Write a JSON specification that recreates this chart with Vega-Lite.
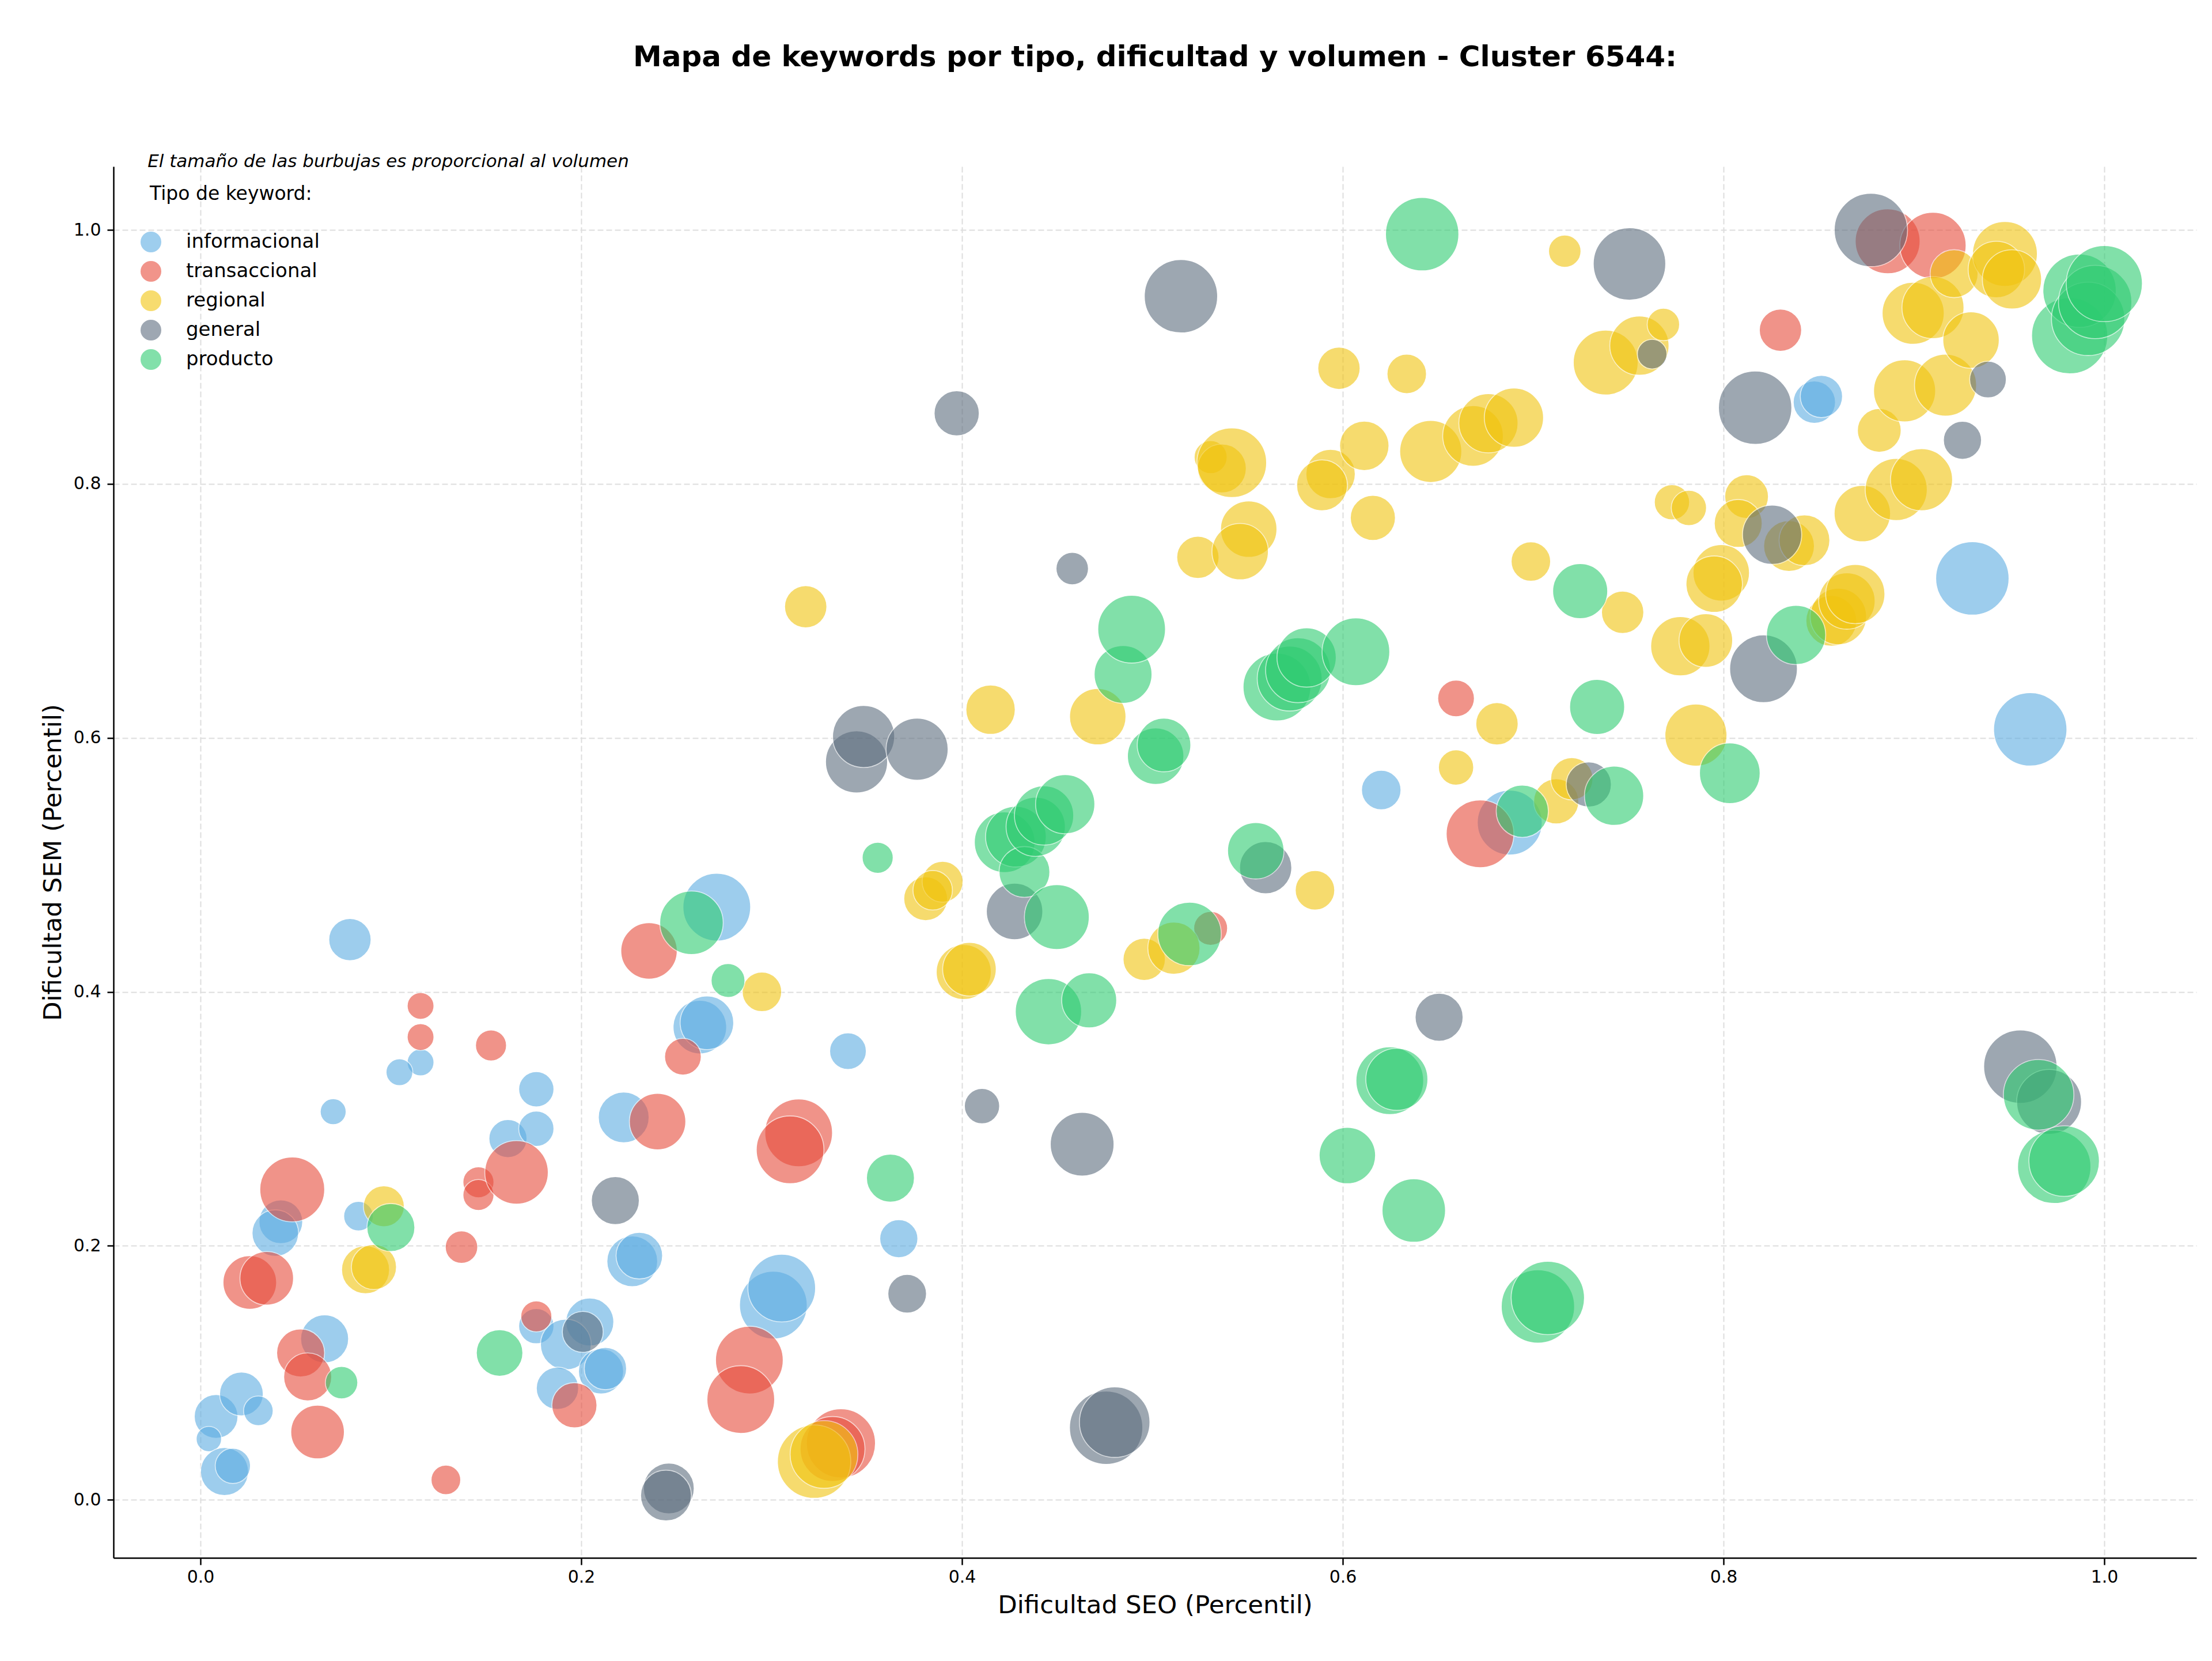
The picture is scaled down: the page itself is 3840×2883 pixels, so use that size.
{
  "$schema": "https://vega.github.io/schema/vega-lite/v6.json",
  "autosize": {"type": "none"},
  "width": 3616,
  "height": 2415,
  "padding": {"left": 197, "top": 289, "right": 27, "bottom": 179},
  "background": "white",
  "title": {
    "text": "Mapa de keywords por tipo, dificultad y volumen - Cluster 6544:",
    "font": "DejaVu Sans",
    "fontSize": 50,
    "fontWeight": "bold",
    "color": "black",
    "anchor": "middle",
    "frame": "group",
    "offset": 140
  },
  "config": {
    "view": {"stroke": null},
    "font": "DejaVu Sans"
  },
  "data": {
    "values": [
      {"tipo": "informacional", "seo": 0.0785, "sem": 0.4411, "volumen": 2250},
      {"tipo": "informacional", "seo": 0.0697, "sem": 0.3056, "volumen": 846},
      {"tipo": "informacional", "seo": 0.1156, "sem": 0.3444, "volumen": 903},
      {"tipo": "informacional", "seo": 0.1045, "sem": 0.3367, "volumen": 903},
      {"tipo": "informacional", "seo": 0.1615, "sem": 0.2844, "volumen": 1823},
      {"tipo": "informacional", "seo": 0.1764, "sem": 0.3233, "volumen": 1563},
      {"tipo": "informacional", "seo": 0.1764, "sem": 0.2922, "volumen": 1563},
      {"tipo": "informacional", "seo": 0.0422, "sem": 0.2189, "volumen": 2403},
      {"tipo": "informacional", "seo": 0.0393, "sem": 0.21, "volumen": 2723},
      {"tipo": "informacional", "seo": 0.083, "sem": 0.2233, "volumen": 1103},
      {"tipo": "informacional", "seo": 0.0652, "sem": 0.1267, "volumen": 2890},
      {"tipo": "informacional", "seo": 0.0082, "sem": 0.0656, "volumen": 2403},
      {"tipo": "informacional", "seo": 0.0215, "sem": 0.0833, "volumen": 2403},
      {"tipo": "informacional", "seo": 0.0304, "sem": 0.07, "volumen": 1103},
      {"tipo": "informacional", "seo": 0.0044, "sem": 0.0478, "volumen": 810},
      {"tipo": "informacional", "seo": 0.0126, "sem": 0.0222, "volumen": 2890},
      {"tipo": "informacional", "seo": 0.017, "sem": 0.0267, "volumen": 1563},
      {"tipo": "informacional", "seo": 0.1764, "sem": 0.1367, "volumen": 1563},
      {"tipo": "informacional", "seo": 0.2045, "sem": 0.14, "volumen": 2890},
      {"tipo": "informacional", "seo": 0.1919, "sem": 0.1222, "volumen": 3240},
      {"tipo": "informacional", "seo": 0.2104, "sem": 0.1011, "volumen": 2560},
      {"tipo": "informacional", "seo": 0.2127, "sem": 0.1033, "volumen": 2250},
      {"tipo": "informacional", "seo": 0.1875, "sem": 0.0878, "volumen": 2250},
      {"tipo": "informacional", "seo": 0.2223, "sem": 0.3011, "volumen": 3240},
      {"tipo": "informacional", "seo": 0.2268, "sem": 0.1878, "volumen": 3240},
      {"tipo": "informacional", "seo": 0.2305, "sem": 0.1922, "volumen": 2723},
      {"tipo": "informacional", "seo": 0.2623, "sem": 0.3722, "volumen": 3610},
      {"tipo": "informacional", "seo": 0.266, "sem": 0.3756, "volumen": 3610},
      {"tipo": "informacional", "seo": 0.2712, "sem": 0.4667, "volumen": 5760},
      {"tipo": "informacional", "seo": 0.3009, "sem": 0.1533, "volumen": 5760},
      {"tipo": "informacional", "seo": 0.3053, "sem": 0.1667, "volumen": 5760},
      {"tipo": "informacional", "seo": 0.3401, "sem": 0.3533, "volumen": 1690},
      {"tipo": "informacional", "seo": 0.3668, "sem": 0.2056, "volumen": 1823},
      {"tipo": "informacional", "seo": 0.6202, "sem": 0.5589, "volumen": 1960},
      {"tipo": "informacional", "seo": 0.6877, "sem": 0.5333, "volumen": 5290},
      {"tipo": "informacional", "seo": 0.8477, "sem": 0.8644, "volumen": 2250},
      {"tipo": "informacional", "seo": 0.8514, "sem": 0.8689, "volumen": 2250},
      {"tipo": "informacional", "seo": 0.9307, "sem": 0.7256, "volumen": 6760},
      {"tipo": "informacional", "seo": 0.9611, "sem": 0.6067, "volumen": 6760},
      {"tipo": "transaccional", "seo": 0.0482, "sem": 0.2444, "volumen": 5290},
      {"tipo": "transaccional", "seo": 0.0259, "sem": 0.1711, "volumen": 3610},
      {"tipo": "transaccional", "seo": 0.0348, "sem": 0.1744, "volumen": 3610},
      {"tipo": "transaccional", "seo": 0.0526, "sem": 0.1156, "volumen": 2890},
      {"tipo": "transaccional", "seo": 0.0563, "sem": 0.0967, "volumen": 2890},
      {"tipo": "transaccional", "seo": 0.0615, "sem": 0.0533, "volumen": 3610},
      {"tipo": "transaccional", "seo": 0.1156, "sem": 0.3889, "volumen": 903},
      {"tipo": "transaccional", "seo": 0.1156, "sem": 0.3644, "volumen": 903},
      {"tipo": "transaccional", "seo": 0.1526, "sem": 0.3578, "volumen": 1210},
      {"tipo": "transaccional", "seo": 0.146, "sem": 0.25, "volumen": 1210},
      {"tipo": "transaccional", "seo": 0.146, "sem": 0.24, "volumen": 1210},
      {"tipo": "transaccional", "seo": 0.166, "sem": 0.2578, "volumen": 5063},
      {"tipo": "transaccional", "seo": 0.1371, "sem": 0.1989, "volumen": 1323},
      {"tipo": "transaccional", "seo": 0.1764, "sem": 0.1444, "volumen": 1210},
      {"tipo": "transaccional", "seo": 0.1964, "sem": 0.0744, "volumen": 2560},
      {"tipo": "transaccional", "seo": 0.1289, "sem": 0.0156, "volumen": 1103},
      {"tipo": "transaccional", "seo": 0.2356, "sem": 0.4322, "volumen": 4000},
      {"tipo": "transaccional", "seo": 0.2401, "sem": 0.2978, "volumen": 4000},
      {"tipo": "transaccional", "seo": 0.2534, "sem": 0.3489, "volumen": 1690},
      {"tipo": "transaccional", "seo": 0.3142, "sem": 0.2889, "volumen": 5760},
      {"tipo": "transaccional", "seo": 0.3097, "sem": 0.2756, "volumen": 5760},
      {"tipo": "transaccional", "seo": 0.2883, "sem": 0.11, "volumen": 5760},
      {"tipo": "transaccional", "seo": 0.2838, "sem": 0.0789, "volumen": 5760},
      {"tipo": "transaccional", "seo": 0.3364, "sem": 0.0444, "volumen": 6003},
      {"tipo": "transaccional", "seo": 0.332, "sem": 0.04, "volumen": 5290},
      {"tipo": "transaccional", "seo": 0.5306, "sem": 0.45, "volumen": 1440},
      {"tipo": "transaccional", "seo": 0.6595, "sem": 0.6311, "volumen": 1690},
      {"tipo": "transaccional", "seo": 0.6721, "sem": 0.5244, "volumen": 5760},
      {"tipo": "transaccional", "seo": 0.8299, "sem": 0.9211, "volumen": 2250},
      {"tipo": "transaccional", "seo": 0.8862, "sem": 0.9911, "volumen": 5290},
      {"tipo": "transaccional", "seo": 0.91, "sem": 0.9878, "volumen": 5523},
      {"tipo": "regional", "seo": 0.0963, "sem": 0.2311, "volumen": 2103},
      {"tipo": "regional", "seo": 0.0867, "sem": 0.1811, "volumen": 2890},
      {"tipo": "regional", "seo": 0.0911, "sem": 0.1833, "volumen": 2560},
      {"tipo": "regional", "seo": 0.3179, "sem": 0.7033, "volumen": 2250},
      {"tipo": "regional", "seo": 0.2949, "sem": 0.4, "volumen": 1960},
      {"tipo": "regional", "seo": 0.3223, "sem": 0.03, "volumen": 6760},
      {"tipo": "regional", "seo": 0.3275, "sem": 0.0356, "volumen": 5760},
      {"tipo": "regional", "seo": 0.3809, "sem": 0.4733, "volumen": 2403},
      {"tipo": "regional", "seo": 0.3898, "sem": 0.4867, "volumen": 2103},
      {"tipo": "regional", "seo": 0.3846, "sem": 0.48, "volumen": 1960},
      {"tipo": "regional", "seo": 0.4009, "sem": 0.4156, "volumen": 3803},
      {"tipo": "regional", "seo": 0.4039, "sem": 0.4178, "volumen": 3610},
      {"tipo": "regional", "seo": 0.415, "sem": 0.6222, "volumen": 3063},
      {"tipo": "regional", "seo": 0.4713, "sem": 0.6167, "volumen": 4000},
      {"tipo": "regional", "seo": 0.4957, "sem": 0.4256, "volumen": 2250},
      {"tipo": "regional", "seo": 0.5113, "sem": 0.4344, "volumen": 3423},
      {"tipo": "regional", "seo": 0.5306, "sem": 0.8211, "volumen": 1369},
      {"tipo": "regional", "seo": 0.5365, "sem": 0.8122, "volumen": 2993},
      {"tipo": "regional", "seo": 0.5417, "sem": 0.8167, "volumen": 6101},
      {"tipo": "regional", "seo": 0.5239, "sem": 0.7422, "volumen": 2250},
      {"tipo": "regional", "seo": 0.5506, "sem": 0.7644, "volumen": 4000},
      {"tipo": "regional", "seo": 0.5461, "sem": 0.7467, "volumen": 4000},
      {"tipo": "regional", "seo": 0.598, "sem": 0.8911, "volumen": 2250},
      {"tipo": "regional", "seo": 0.5936, "sem": 0.8078, "volumen": 3063},
      {"tipo": "regional", "seo": 0.5891, "sem": 0.7989, "volumen": 3240},
      {"tipo": "regional", "seo": 0.6113, "sem": 0.83, "volumen": 3063},
      {"tipo": "regional", "seo": 0.6158, "sem": 0.7733, "volumen": 2560},
      {"tipo": "regional", "seo": 0.6336, "sem": 0.8867, "volumen": 1960},
      {"tipo": "regional", "seo": 0.6462, "sem": 0.8256, "volumen": 4840},
      {"tipo": "regional", "seo": 0.6684, "sem": 0.8378, "volumen": 4623},
      {"tipo": "regional", "seo": 0.6765, "sem": 0.8478, "volumen": 4410},
      {"tipo": "regional", "seo": 0.6899, "sem": 0.8522, "volumen": 4410},
      {"tipo": "regional", "seo": 0.6988, "sem": 0.7389, "volumen": 1960},
      {"tipo": "regional", "seo": 0.7166, "sem": 0.9833, "volumen": 1323},
      {"tipo": "regional", "seo": 0.7381, "sem": 0.8956, "volumen": 5290},
      {"tipo": "regional", "seo": 0.7558, "sem": 0.9089, "volumen": 4410},
      {"tipo": "regional", "seo": 0.7684, "sem": 0.9256, "volumen": 1323},
      {"tipo": "regional", "seo": 0.747, "sem": 0.6989, "volumen": 2250},
      {"tipo": "regional", "seo": 0.6595, "sem": 0.5767, "volumen": 1563},
      {"tipo": "regional", "seo": 0.681, "sem": 0.6111, "volumen": 2250},
      {"tipo": "regional", "seo": 0.5854, "sem": 0.48, "volumen": 1960},
      {"tipo": "regional", "seo": 0.7121, "sem": 0.55, "volumen": 2560},
      {"tipo": "regional", "seo": 0.7203, "sem": 0.5678, "volumen": 2250},
      {"tipo": "regional", "seo": 0.7729, "sem": 0.7856, "volumen": 1563},
      {"tipo": "regional", "seo": 0.7818, "sem": 0.7811, "volumen": 1563},
      {"tipo": "regional", "seo": 0.7773, "sem": 0.6722, "volumen": 4410},
      {"tipo": "regional", "seo": 0.7907, "sem": 0.6767, "volumen": 3610},
      {"tipo": "regional", "seo": 0.7855, "sem": 0.6022, "volumen": 4840},
      {"tipo": "regional", "seo": 0.7988, "sem": 0.73, "volumen": 4000},
      {"tipo": "regional", "seo": 0.7951, "sem": 0.7211, "volumen": 4000},
      {"tipo": "regional", "seo": 0.8121, "sem": 0.79, "volumen": 2403},
      {"tipo": "regional", "seo": 0.8077, "sem": 0.7689, "volumen": 2890},
      {"tipo": "regional", "seo": 0.8344, "sem": 0.7511, "volumen": 3240},
      {"tipo": "regional", "seo": 0.8425, "sem": 0.7556, "volumen": 3240},
      {"tipo": "regional", "seo": 0.8566, "sem": 0.6922, "volumen": 3240},
      {"tipo": "regional", "seo": 0.8603, "sem": 0.6956, "volumen": 4000},
      {"tipo": "regional", "seo": 0.8648, "sem": 0.7078, "volumen": 4000},
      {"tipo": "regional", "seo": 0.8692, "sem": 0.7133, "volumen": 4410},
      {"tipo": "regional", "seo": 0.8729, "sem": 0.7767, "volumen": 4000},
      {"tipo": "regional", "seo": 0.8818, "sem": 0.8422, "volumen": 2403},
      {"tipo": "regional", "seo": 0.8907, "sem": 0.7956, "volumen": 4840},
      {"tipo": "regional", "seo": 0.904, "sem": 0.8033, "volumen": 4840},
      {"tipo": "regional", "seo": 0.8951, "sem": 0.8733, "volumen": 4840},
      {"tipo": "regional", "seo": 0.9166, "sem": 0.8778, "volumen": 4840},
      {"tipo": "regional", "seo": 0.8996, "sem": 0.9344, "volumen": 4840},
      {"tipo": "regional", "seo": 0.91, "sem": 0.9389, "volumen": 4840},
      {"tipo": "regional", "seo": 0.93, "sem": 0.9133, "volumen": 4000},
      {"tipo": "regional", "seo": 0.9211, "sem": 0.9656, "volumen": 2890},
      {"tipo": "regional", "seo": 0.9478, "sem": 0.9811, "volumen": 5290},
      {"tipo": "regional", "seo": 0.9433, "sem": 0.9689, "volumen": 4000},
      {"tipo": "regional", "seo": 0.9515, "sem": 0.9611, "volumen": 4410},
      {"tipo": "general", "seo": 0.246, "sem": 0.0089, "volumen": 3240},
      {"tipo": "general", "seo": 0.2445, "sem": 0.0033, "volumen": 3240},
      {"tipo": "general", "seo": 0.2179, "sem": 0.2356, "volumen": 2890},
      {"tipo": "general", "seo": 0.2008, "sem": 0.1322, "volumen": 2103},
      {"tipo": "general", "seo": 0.3712, "sem": 0.1622, "volumen": 1877},
      {"tipo": "general", "seo": 0.4105, "sem": 0.31, "volumen": 1563},
      {"tipo": "general", "seo": 0.3446, "sem": 0.5811, "volumen": 4840},
      {"tipo": "general", "seo": 0.3483, "sem": 0.6011, "volumen": 4840},
      {"tipo": "general", "seo": 0.3764, "sem": 0.5911, "volumen": 4840},
      {"tipo": "general", "seo": 0.3972, "sem": 0.8556, "volumen": 2560},
      {"tipo": "general", "seo": 0.4276, "sem": 0.4633, "volumen": 4000},
      {"tipo": "general", "seo": 0.4631, "sem": 0.28, "volumen": 5108},
      {"tipo": "general", "seo": 0.4579, "sem": 0.7333, "volumen": 1323},
      {"tipo": "general", "seo": 0.4757, "sem": 0.0567, "volumen": 6760},
      {"tipo": "general", "seo": 0.4802, "sem": 0.0611, "volumen": 6250},
      {"tipo": "general", "seo": 0.515, "sem": 0.9478, "volumen": 6760},
      {"tipo": "general", "seo": 0.5595, "sem": 0.4978, "volumen": 3423},
      {"tipo": "general", "seo": 0.6506, "sem": 0.38, "volumen": 2890},
      {"tipo": "general", "seo": 0.7292, "sem": 0.5633, "volumen": 2560},
      {"tipo": "general", "seo": 0.7506, "sem": 0.9733, "volumen": 6605},
      {"tipo": "general", "seo": 0.7625, "sem": 0.9022, "volumen": 1103},
      {"tipo": "general", "seo": 0.8166, "sem": 0.86, "volumen": 6760},
      {"tipo": "general", "seo": 0.821, "sem": 0.6544, "volumen": 5760},
      {"tipo": "general", "seo": 0.8255, "sem": 0.76, "volumen": 4410},
      {"tipo": "general", "seo": 0.8774, "sem": 1.0, "volumen": 6760},
      {"tipo": "general", "seo": 0.9255, "sem": 0.8344, "volumen": 1823},
      {"tipo": "general", "seo": 0.9389, "sem": 0.8822, "volumen": 1690},
      {"tipo": "general", "seo": 0.9559, "sem": 0.3411, "volumen": 6760},
      {"tipo": "general", "seo": 0.971, "sem": 0.3133, "volumen": 5290},
      {"tipo": "producto", "seo": 0.0741, "sem": 0.0922, "volumen": 1323},
      {"tipo": "producto", "seo": 0.1, "sem": 0.2144, "volumen": 2890},
      {"tipo": "producto", "seo": 0.1571, "sem": 0.1156, "volumen": 2723},
      {"tipo": "producto", "seo": 0.2579, "sem": 0.4544, "volumen": 5063},
      {"tipo": "producto", "seo": 0.2771, "sem": 0.4089, "volumen": 1440},
      {"tipo": "producto", "seo": 0.3557, "sem": 0.5056, "volumen": 1210},
      {"tipo": "producto", "seo": 0.3624, "sem": 0.2533, "volumen": 2890},
      {"tipo": "producto", "seo": 0.4224, "sem": 0.5178, "volumen": 4623},
      {"tipo": "producto", "seo": 0.4283, "sem": 0.5222, "volumen": 4623},
      {"tipo": "producto", "seo": 0.4328, "sem": 0.4944, "volumen": 3240},
      {"tipo": "producto", "seo": 0.4387, "sem": 0.53, "volumen": 4410},
      {"tipo": "producto", "seo": 0.4431, "sem": 0.5389, "volumen": 4410},
      {"tipo": "producto", "seo": 0.4542, "sem": 0.5478, "volumen": 4410},
      {"tipo": "producto", "seo": 0.4498, "sem": 0.4589, "volumen": 5290},
      {"tipo": "producto", "seo": 0.4454, "sem": 0.3844, "volumen": 5523},
      {"tipo": "producto", "seo": 0.4668, "sem": 0.3933, "volumen": 3803},
      {"tipo": "producto", "seo": 0.4846, "sem": 0.65, "volumen": 4203},
      {"tipo": "producto", "seo": 0.4891, "sem": 0.6856, "volumen": 5760},
      {"tipo": "producto", "seo": 0.5017, "sem": 0.5856, "volumen": 4000},
      {"tipo": "producto", "seo": 0.5061, "sem": 0.5944, "volumen": 3610},
      {"tipo": "producto", "seo": 0.5195, "sem": 0.4456, "volumen": 5063},
      {"tipo": "producto", "seo": 0.5543, "sem": 0.5111, "volumen": 4000},
      {"tipo": "producto", "seo": 0.5654, "sem": 0.64, "volumen": 5760},
      {"tipo": "producto", "seo": 0.5721, "sem": 0.6467, "volumen": 5290},
      {"tipo": "producto", "seo": 0.5765, "sem": 0.6533, "volumen": 5290},
      {"tipo": "producto", "seo": 0.581, "sem": 0.6633, "volumen": 4410},
      {"tipo": "producto", "seo": 0.6069, "sem": 0.6678, "volumen": 5760},
      {"tipo": "producto", "seo": 0.6024, "sem": 0.2711, "volumen": 4000},
      {"tipo": "producto", "seo": 0.6247, "sem": 0.33, "volumen": 5760},
      {"tipo": "producto", "seo": 0.6284, "sem": 0.3311, "volumen": 4840},
      {"tipo": "producto", "seo": 0.6373, "sem": 0.2278, "volumen": 5063},
      {"tipo": "producto", "seo": 0.6417, "sem": 0.9967, "volumen": 6760},
      {"tipo": "producto", "seo": 0.6943, "sem": 0.5422, "volumen": 3423},
      {"tipo": "producto", "seo": 0.7025, "sem": 0.1522, "volumen": 6760},
      {"tipo": "producto", "seo": 0.7077, "sem": 0.1589, "volumen": 6760},
      {"tipo": "producto", "seo": 0.7247, "sem": 0.7156, "volumen": 3803},
      {"tipo": "producto", "seo": 0.7336, "sem": 0.6244, "volumen": 3803},
      {"tipo": "producto", "seo": 0.7425, "sem": 0.5544, "volumen": 4410},
      {"tipo": "producto", "seo": 0.8033, "sem": 0.5722, "volumen": 4623},
      {"tipo": "producto", "seo": 0.8381, "sem": 0.6811, "volumen": 4410},
      {"tipo": "producto", "seo": 0.9655, "sem": 0.3189, "volumen": 6250},
      {"tipo": "producto", "seo": 0.9737, "sem": 0.2622, "volumen": 6760},
      {"tipo": "producto", "seo": 0.9789, "sem": 0.2667, "volumen": 6250},
      {"tipo": "producto", "seo": 0.9818, "sem": 0.9167, "volumen": 7290},
      {"tipo": "producto", "seo": 0.987, "sem": 0.9522, "volumen": 6760},
      {"tipo": "producto", "seo": 0.9915, "sem": 0.93, "volumen": 6760},
      {"tipo": "producto", "seo": 0.9952, "sem": 0.9433, "volumen": 6760},
      {"tipo": "producto", "seo": 1.0, "sem": 0.9578, "volumen": 7290}
    ]
  },
  "layer": [
    {
      "mark": {
        "type": "point",
        "filled": true,
        "shape": "circle",
        "opacity": 0.6,
        "stroke": "white",
        "strokeWidth": 1.6
      },
      "encoding": {
        "x": {
          "field": "seo",
          "type": "quantitative",
          "scale": {"domain": [-0.0457, 1.0484], "nice": false, "zero": false},
          "axis": {
            "title": "Dificultad SEO (Percentil)",
            "titleFont": "DejaVu Sans",
            "titleFontSize": 43.5,
            "titleFontWeight": "normal",
            "titleColor": "black",
            "titlePadding": 13,
            "labelFont": "DejaVu Sans",
            "labelFontSize": 30,
            "labelColor": "black",
            "labelPadding": 6,
            "labelFlush": false,
            "values": [0, 0.2, 0.4, 0.6, 0.8, 1.0],
            "format": ".1f",
            "grid": true,
            "gridDash": [10, 5],
            "gridColor": "#dddddd",
            "gridWidth": 2,
            "domainColor": "black",
            "domainWidth": 2.5,
            "tickColor": "black",
            "tickWidth": 2.5,
            "tickSize": 12
          }
        },
        "y": {
          "field": "sem",
          "type": "quantitative",
          "scale": {"domain": [-0.0458, 1.05], "nice": false, "zero": false},
          "axis": {
            "title": "Dificultad SEM (Percentil)",
            "titleFont": "DejaVu Sans",
            "titleFontSize": 43.5,
            "titleFontWeight": "normal",
            "titleColor": "black",
            "titlePadding": 13,
            "labelFont": "DejaVu Sans",
            "labelFontSize": 30,
            "labelColor": "black",
            "labelPadding": 11,
            "labelFlush": false,
            "values": [0, 0.2, 0.4, 0.6, 0.8, 1.0],
            "format": ".1f",
            "grid": true,
            "gridDash": [10, 5],
            "gridColor": "#dddddd",
            "gridWidth": 2,
            "domainColor": "black",
            "domainWidth": 2.5,
            "tickColor": "black",
            "tickWidth": 2.5,
            "tickSize": 11
          }
        },
        "size": {
          "field": "volumen",
          "type": "quantitative",
          "scale": {"domain": [0, 7290], "range": [0, 17487], "zero": true},
          "legend": null
        },
        "color": {
          "field": "tipo",
          "type": "nominal",
          "scale": {
            "domain": ["informacional", "transaccional", "regional", "general", "producto"],
            "range": ["#5DADE2", "#E74C3C", "#F1C40F", "#5D6D7E", "#2ECC71"]
          },
          "legend": {
            "title": "Tipo de keyword:",
            "orient": "none",
            "direction": "vertical",
            "legendX": 63,
            "legendY": 32,
            "padding": 0,
            "titleFont": "DejaVu Sans",
            "titleFontSize": 33,
            "titleFontWeight": "normal",
            "titleColor": "black",
            "titlePadding": 48,
            "titleLimit": 0,
            "labelFont": "DejaVu Sans",
            "labelFontSize": 34,
            "labelColor": "black",
            "labelLimit": 0,
            "labelOffset": 43,
            "symbolType": "circle",
            "symbolSize": 1296,
            "symbolOpacity": 0.6,
            "symbolStrokeWidth": 0,
            "symbolOffset": -16,
            "rowPadding": 15
          }
        }
      }
    },
    {
      "data": {"values": [{}]},
      "mark": {
        "type": "text",
        "text": "El tamaño de las burbujas es proporcional al volumen",
        "font": "DejaVu Sans",
        "fontSize": 31,
        "fontStyle": "italic",
        "align": "left",
        "baseline": "alphabetic",
        "color": "black"
      },
      "encoding": {
        "x": {"datum": -0.0278},
        "y": {"datum": 1.0495}
      }
    }
  ]
}
